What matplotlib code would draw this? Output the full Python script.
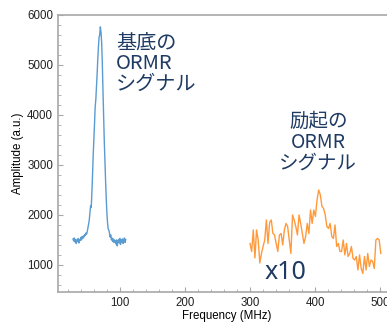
import matplotlib
matplotlib.use("Agg")
import matplotlib.pyplot as plt
from matplotlib.ticker import MultipleLocator
import numpy as np

# ground-state ORMR signal (blue), 1 MHz steps
ground_freq = np.arange(28, 110)
ground_amp = [
    1520, 1480, 1540, 1460, 1510, 1430, 1500, 1470, 1530, 1440,
    1510, 1490, 1550, 1500, 1570, 1530, 1580, 1560, 1610, 1590,
    1640, 1620, 1680, 1750, 1820, 1900, 2050, 2180, 2150, 2450,
    2800, 3200, 3500, 3800, 4150, 4300, 4550, 4800, 5100, 5350,
    5550, 5600, 5760, 5650, 5450, 5050, 4500, 4000, 3500, 3100,
    2700, 2350, 2050, 1850, 1720, 1700, 1640, 1560, 1600, 1500,
    1540, 1470, 1520, 1450, 1500, 1480, 1420, 1500, 1380, 1470,
    1510, 1440, 1530, 1410, 1500, 1460, 1520, 1430, 1490, 1540,
    1450, 1510,
]

# excited-state ORMR signal (orange, x10)
excited_amp = [
    1430, 1270, 1700, 1140, 1700, 1500, 1040, 1230, 1370, 1500,
    1900, 1430, 1850, 1900, 1630, 1600, 1430, 1270, 1600, 1630,
    1400, 1700, 1830, 1770, 1500, 1230, 2000, 1900, 1770, 1600,
    2000, 1830, 1630, 1430, 1570, 1830, 1630, 2100, 1830, 2100,
    1970, 2300, 2500, 2400, 2170, 2130, 2000, 1770, 1730, 1830,
    1570, 1530, 1800, 1370, 1430, 1270, 1270, 1500, 1200, 1430,
    1170, 1230, 1370, 1130, 1100, 1170, 900, 1200, 930, 830,
    1170, 900, 1230, 970, 1100, 1070, 930, 1500, 1530, 1500,
    1230,
]
excited_freq = np.linspace(300, 501, len(excited_amp))

ground_label = "基底の\nORMR\nシグナル"
excited_label = "励起の\nORMR\nシグナル"

navy = "#1f3b63"
spine_gray = "#a8a8a8"
jp = ["Noto Sans CJK JP", "DejaVu Sans"]

fig = plt.figure(figsize=(3.87, 3.23), dpi=100)
ax = fig.add_axes([0.150, 0.096, 0.871, 0.858])

ax.plot(ground_freq, ground_amp, color="#5a9bd2", lw=1.0)
ax.plot(excited_freq, excited_amp, color="#ff9a3c", lw=1.0)

ax.set_xlim(5, 523)
ax.set_ylim(460, 6000)
ax.xaxis.set_major_locator(MultipleLocator(100))
ax.xaxis.set_minor_locator(MultipleLocator(20))
ax.yaxis.set_major_locator(MultipleLocator(1000))
ax.yaxis.set_minor_locator(MultipleLocator(200))

for s in ax.spines.values():
    s.set_color(spine_gray)
    s.set_linewidth(1.2)

ax.tick_params(which="both", direction="in", color=spine_gray, labelsize=8.3,
               labelcolor="#222222")
ax.tick_params(which="major", length=3.5, width=0.8)
ax.tick_params(which="minor", length=2.5, width=0.6)

ax.set_xlabel("Frequency (MHz)", fontsize=8.3, labelpad=1, family="Liberation Sans")
ax.set_ylabel("Amplitude (a.u.)", fontsize=8.3, labelpad=2, family="Liberation Sans")
for lab in ax.get_xticklabels() + ax.get_yticklabels():
    lab.set_family("Liberation Sans")

ax.text(94, 5030, ground_label, fontsize=14.5, color=navy, family=jp,
        ha="left", va="center", linespacing=0.98)
ax.text(405, 3450, excited_label, fontsize=14, color=navy, family=jp,
        ha="center", va="center", linespacing=0.98, multialignment="center")

ax.text(322, 840, "x10", fontsize=18, color=navy, family="Noto Sans",
        ha="left", va="center")

fig.savefig("out.png", dpi=100)
